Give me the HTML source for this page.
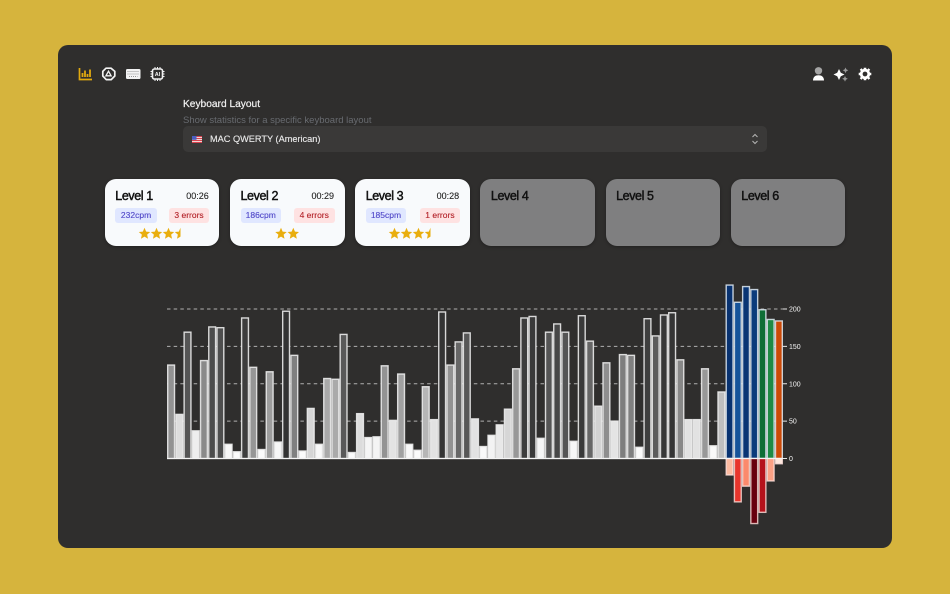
<!DOCTYPE html>
<html lang="en">
<head>
<meta charset="utf-8">
<title>Keyboard statistics</title>
<style>
html,body{margin:0;padding:0;width:950px;height:594px;overflow:hidden;background:#d6b43d;font-family:"Liberation Sans",sans-serif}
#panel{position:absolute;left:58px;top:45px;width:834px;height:503px;background:#2f2e2d;border-radius:10px}
.abs{position:absolute}
.card{position:absolute;top:179px;width:114.5px;height:67px;border-radius:11px;background:#f8fafc;box-shadow:0 1px 3px rgba(0,0,0,.3)}
.card.off{background:#7f7f80}
.lvl{position:absolute;left:10.5px;top:9px;font-size:12.5px;line-height:16px;letter-spacing:-.4px;color:#111;-webkit-text-stroke:.45px #111}
.time{position:absolute;right:10.5px;top:11px;font-size:9px;line-height:12px;color:#222;-webkit-text-stroke:.1px #222}
.badge{position:absolute;top:28.5px;height:15.5px;line-height:15.5px;border-radius:3px;text-align:center;font-size:8.5px;-webkit-text-stroke:.12px currentColor}
.cpm{background:#e0e7ff;color:#4f46c8}
.err{background:#fee2e2;color:#b4232a}
</style>
</head>
<body>
<div id="panel"></div>

<svg class="abs" style="left:78px;top:66px" width="96" height="16" viewBox="0 0 96 16" fill="none">
  <g stroke="#e0a90f" stroke-width="1.7">
    <path d="M1.500 2v11.500h12.500"/>
    <path d="M4.500 11V7M7 11V4.500M9.500 11V8M12 11V3.500" stroke-width="1.8"/>
  </g>
  <g stroke="#f2f2f2" stroke-width="1.7">
    <path d="M28 2.200h5l3.800 3.200v4.600l-3.600 3.600h-5l-3.400-3.600V5.400z" stroke-linejoin="round"/>
    <path d="M30.500 5.200l-2.600 4.600h5.200z" stroke-width="1.300"/>
  </g>
  <g>
    <rect x="48" y="3" width="14.500" height="10" rx="1.400" fill="#f2f2f2"/>
    <path d="M49.500 5.500h11.500M49.500 8h11.500M51 10.500h8.500" stroke="#777" stroke-width=".7" stroke-dasharray="1 1"/>
  </g>
  <g stroke="#f2f2f2">
    <rect x="74.500" y="3" width="10" height="10" rx="1.800" stroke-width="1.600"/>
    <path d="M77 1v2M79.500 1v2M82 1v2M77 13v2M79.500 13v2M82 13v2M72.500 5.500h2M72.500 8h2M72.500 10.500h2M84.500 5.500h2M84.500 8h2M84.500 10.500h2" stroke-width="1"/>
    <text x="79.500" y="10" text-anchor="middle" font-size="5.500" font-weight="bold" fill="#f2f2f2" stroke="none" font-family="Liberation Sans, sans-serif">AI</text>
  </g>
</svg>

<svg class="abs" style="left:810px;top:66px" width="64" height="16" viewBox="0 0 64 16">
  <g>
    <circle cx="8.500" cy="4.800" r="3.700" fill="#a5a5a5"/>
    <path d="M3 14.500c0-3.800 2.400-5.300 5.500-5.300s5.500 1.500 5.500 5.300z" fill="#fff"/>
  </g>
  <g>
    <path d="M29 3l1.800 3.700 3.700 1.800-3.700 1.800-1.800 3.700-1.800-3.700-3.700-1.800 3.700-1.800z" fill="#fff"/>
    <path d="M35.500 1.500l.9 1.900 1.900.9-1.900.9-.9 1.900-.9-1.900-1.900-.9 1.900-.9z" fill="#999"/>
    <path d="M35 10l.9 1.900 1.900.9-1.900.9-.9 1.900-.9-1.900-1.900-.9 1.900-.9z" fill="#999"/>
  </g>
  <g>
    <circle cx="55" cy="8" r="3.800" fill="none" stroke="#fff" stroke-width="2.800"/>
    <path d="M55 8m-1.300-6.300h2.600v2.500h-2.600zM53.700 11.800h2.600v2.500h-2.600zM48.700 6.700h2.500v2.600h-2.500zM58.800 6.700h2.500v2.600h-2.500zM49.800 3.600l1.800-1.300 1.500 2-1.900 1.400zM58.400 2.300l1.800 1.300-1.400 2-1.900-1.400zM49.800 12.400l1.400-2.100 1.900 1.400-1.500 2zM58.800 10.300l1.400 2.100-1.800 1.300-1.500-2z" fill="#fff"/>
  </g>
</svg>

<div class="abs" style="left:183px;top:98.800px;font-size:10.200px;line-height:12px;color:#f2f2f2;-webkit-text-stroke:.2px #f2f2f2;white-space:nowrap">Keyboard Layout</div>
<div class="abs" style="left:183px;top:114.500px;font-size:9.500px;line-height:12px;color:#686b70;white-space:nowrap">Show statistics for a specific keyboard layout</div>
<div class="abs" style="left:183px;top:126px;width:584px;height:26px;border-radius:5px;background:#3a3938">
  <svg class="abs" style="left:9px;top:10px" width="10" height="7" viewBox="0 0 10 7">
    <rect width="10" height="7" fill="#f0d6d6"/>
    <path d="M0 .5h10M0 2.500h10M0 4.500h10M0 6.500h10" stroke="#d8434f" stroke-width="1"/>
    <rect width="4.500" height="3.800" fill="#4a5fc0"/>
  </svg>
  <div class="abs" style="left:27px;top:7px;font-size:9.200px;line-height:12px;color:#ececec;-webkit-text-stroke:.12px #ececec;white-space:nowrap">MAC QWERTY (American)</div>
  <svg class="abs" style="left:568px;top:7px" width="8" height="12" viewBox="0 0 8 12" fill="none" stroke="#b5b5b5" stroke-width="1"><path d="M1.500 4L4 1.500 6.500 4M1.500 8L4 10.500 6.500 8"/></svg>
</div>

<div class="card" style="left:104.800px">
  <div class="lvl">Level 1</div>
  <div class="time">00:26</div>
  <div class="badge cpm" style="left:10.500px;width:41.500px">232cpm</div>
  <div class="badge err" style="left:64px;width:40.500px">3 errors</div>
  <svg class="abs" style="left:0;top:0" width="114" height="67" fill="#e9ae0e">
    <polygon transform="translate(39.500,54.500) scale(1.100)" points="0,-5.200 1.500,-1.700 5.200,-1.400 2.400,1 3.200,4.800 0,2.800 -3.200,4.800 -2.400,1 -5.200,-1.400 -1.500,-1.700"/>
    <polygon transform="translate(51.500,54.500) scale(1.100)" points="0,-5.200 1.500,-1.700 5.200,-1.400 2.400,1 3.200,4.800 0,2.800 -3.200,4.800 -2.400,1 -5.200,-1.400 -1.500,-1.700"/>
    <polygon transform="translate(63.500,54.500) scale(1.100)" points="0,-5.200 1.500,-1.700 5.200,-1.400 2.400,1 3.200,4.800 0,2.800 -3.200,4.800 -2.400,1 -5.200,-1.400 -1.500,-1.700"/>
    <polygon transform="translate(75.500,54.500) scale(1.100)" points="0,-5.200 0,2.800 -3.200,4.800 -2.400,1 -5.200,-1.400 -1.500,-1.700"/>
  </svg>
</div>
<div class="card" style="left:230px">
  <div class="lvl">Level 2</div>
  <div class="time">00:29</div>
  <div class="badge cpm" style="left:10.500px;width:40.500px">186cpm</div>
  <div class="badge err" style="left:64px;width:40.500px">4 errors</div>
  <svg class="abs" style="left:0;top:0" width="114" height="67" fill="#e9ae0e">
    <polygon transform="translate(51,54.500) scale(1.100)" points="0,-5.200 1.500,-1.700 5.200,-1.400 2.400,1 3.200,4.800 0,2.800 -3.200,4.800 -2.400,1 -5.200,-1.400 -1.500,-1.700"/>
    <polygon transform="translate(63.300,54.500) scale(1.100)" points="0,-5.200 1.500,-1.700 5.200,-1.400 2.400,1 3.200,4.800 0,2.800 -3.200,4.800 -2.400,1 -5.200,-1.400 -1.500,-1.700"/>
  </svg>
</div>
<div class="card" style="left:355.200px">
  <div class="lvl">Level 3</div>
  <div class="time">00:28</div>
  <div class="badge cpm" style="left:10.500px;width:40.500px">185cpm</div>
  <div class="badge err" style="left:65px;width:39.500px">1 errors</div>
  <svg class="abs" style="left:0;top:0" width="114" height="67" fill="#e9ae0e">
    <polygon transform="translate(39.500,54.500) scale(1.100)" points="0,-5.200 1.500,-1.700 5.200,-1.400 2.400,1 3.200,4.800 0,2.800 -3.200,4.800 -2.400,1 -5.200,-1.400 -1.500,-1.700"/>
    <polygon transform="translate(51.500,54.500) scale(1.100)" points="0,-5.200 1.500,-1.700 5.200,-1.400 2.400,1 3.200,4.800 0,2.800 -3.200,4.800 -2.400,1 -5.200,-1.400 -1.500,-1.700"/>
    <polygon transform="translate(63.500,54.500) scale(1.100)" points="0,-5.200 1.500,-1.700 5.200,-1.400 2.400,1 3.200,4.800 0,2.800 -3.200,4.800 -2.400,1 -5.200,-1.400 -1.500,-1.700"/>
    <polygon transform="translate(75.500,54.500) scale(1.100)" points="0,-5.200 0,2.800 -3.200,4.800 -2.400,1 -5.200,-1.400 -1.500,-1.700"/>
  </svg>
</div>
<div class="card off" style="left:480.400px"><div class="lvl">Level 4</div></div>
<div class="card off" style="left:605.600px"><div class="lvl">Level 5</div></div>
<div class="card off" style="left:730.800px"><div class="lvl">Level 6</div></div>

<svg id="chart" class="abs" style="left:0;top:0" width="950" height="594"></svg>

<script>
const keySpeeds = [125,59,169,37,131,176,175,19,9,188,122,12,116,22,197,138,10,67,19,107,106,166,8,60,28,29,124,51,113,19,11,96,52,196,125,156,168,53,16,31,45,66,120,188,190,27,169,180,169,23,191,157,70,128,50,139,138,15,187,164,192,195,132,52,52,120,17,89];
const summarySpeeds = [232,209,230,226,199,186,184];
const summaryErrors = [22,58,37,87,72,30,7];
const summaryGroups = ['blue','blue','blue','blue','green','green','orange'];
const tickValues = [0,50,100,150,200];
const tickLabels = ['0','50','100','150','200'];

const NS = 'http://www.w3.org/2000/svg';
const svg = document.getElementById('chart');
const plotLeft = 167, plotRight = 783, zeroY = 458.5, pxPerUnit = 0.7475;
const totalBars = keySpeeds.length + summarySpeeds.length;
const band = (plotRight - plotLeft) / totalBars;
function xScale(i) { return plotLeft + i * band; }
function yScale(v) { return zeroY - v * pxPerUnit; }

function lerpStops(stops, v) {
  if (v <= stops[0][0]) return stops[0].slice(1);
  for (let i = 1; i < stops.length; i++) {
    if (v <= stops[i][0]) {
      const a = stops[i - 1], b = stops[i], t = (v - a[0]) / (b[0] - a[0]);
      return [1, 2, 3].map(function (k) { return a[k] + (b[k] - a[k]) * t; });
    }
  }
  return stops[stops.length - 1].slice(1);
}
function css(c) { return 'rgb(' + c.map(Math.round).join(',') + ')'; }
function grayFill(v) {
  return css(lerpStops([[0,255,255,255],[30,244,244,244],[60,220,220,220],[90,190,190,190],[125,146,146,146],[140,125,125,125],[170,84,84,84],[190,58,58,58],[200,48,48,48]], v));
}
function summaryFill(v, group) {
  if (group === 'blue') return css(lerpStops([[200,26,96,170],[232,8,50,112]], v));
  if (group === 'green') return css(lerpStops([[186,30,138,69],[199,14,110,54]], v));
  return 'rgb(204,74,6)';
}
function redFill(v) {
  return css(lerpStops([[0,255,245,240],[7,254,232,222],[22,252,187,161],[37,251,138,108],[58,232,53,44],[72,181,18,27],[87,103,0,13]], v));
}
function addRect(x, y, w, h, fill, stroke) {
  const r = document.createElementNS(NS, 'rect');
  r.setAttribute('x', x);
  r.setAttribute('y', y);
  r.setAttribute('width', w);
  r.setAttribute('height', h);
  r.setAttribute('fill', fill);
  r.setAttribute('stroke', stroke);
  r.setAttribute('stroke-width', '1.4');
  svg.appendChild(r);
  return r;
}

tickValues.forEach(function (t, i) {
  const y = yScale(t);
  if (t !== 0) {
    const grid = document.createElementNS(NS, 'line');
    
    
    grid.setAttribute('x1', plotLeft);
    grid.setAttribute('x2', plotRight);
    grid.setAttribute('y1', y);
    grid.setAttribute('y2', y);
    grid.setAttribute('stroke', '#b0b0b0');
    grid.setAttribute('stroke-width', '1');
    grid.setAttribute('stroke-dasharray', '3.5 3.17');
    svg.appendChild(grid);
  }
  const tick = document.createElementNS(NS, 'line');
  
  
  tick.setAttribute('x1', plotRight);
  tick.setAttribute('x2', plotRight + 4);
  tick.setAttribute('y1', y);
  tick.setAttribute('y2', y);
  tick.setAttribute('stroke', '#e8e8e8');
  svg.appendChild(tick);
  const label = document.createElementNS(NS, 'text');
  
  
  label.setAttribute('x', plotRight + 6);
  label.setAttribute('y', y + 2.5);
  label.setAttribute('fill', '#f6f6f6');
  label.setAttribute('font-size', '7');
  label.setAttribute('font-family', '"Liberation Sans", sans-serif');
  label.textContent = tickLabels[i];
  svg.appendChild(label);
});

keySpeeds.forEach(function (v, i) {
  const bar = addRect(xScale(i) + 0.7, yScale(v), band - 1.4, v * pxPerUnit, grayFill(v), 'rgba(235,235,235,.9)');
  
  
});

summarySpeeds.forEach(function (v, i) {
  const idx = keySpeeds.length + i;
  const bar = addRect(xScale(idx) + 0.7, yScale(v), band - 1.4, v * pxPerUnit, summaryFill(v, summaryGroups[i]), 'rgba(225,235,245,.85)');
  
  
});

summaryErrors.forEach(function (v, i) {
  const idx = keySpeeds.length + i;
  const bar = addRect(xScale(idx) + 0.7, zeroY, band - 1.4, v * pxPerUnit, redFill(v), 'rgba(255,225,220,.8)');
  
  
});

const baseline = document.createElementNS(NS, 'line');


baseline.setAttribute('x1', plotLeft);
baseline.setAttribute('x2', plotRight);
baseline.setAttribute('y1', zeroY);
baseline.setAttribute('y2', zeroY);
baseline.setAttribute('stroke', '#f4f4f4');
baseline.setAttribute('stroke-width', '1');
svg.appendChild(baseline);
</script>
</body>
</html>
